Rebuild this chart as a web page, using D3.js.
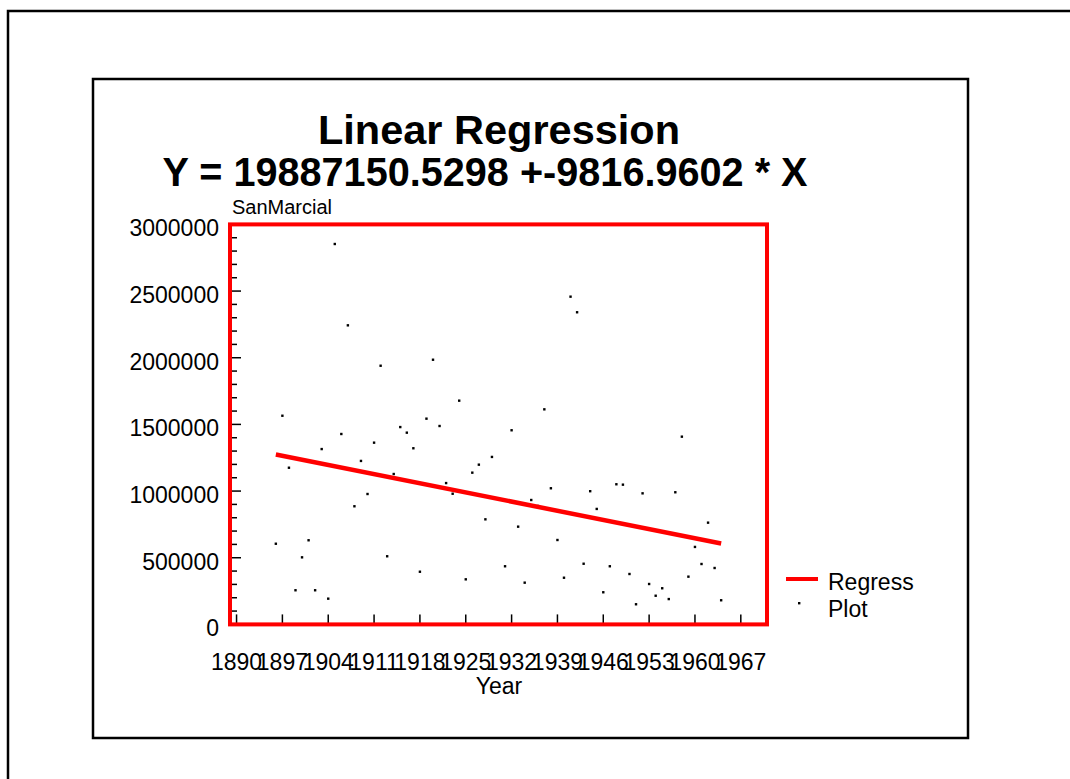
<!DOCTYPE html>
<html lang="en">
<head>
    <meta charset="UTF-8">
    <title>Linear Regression - SanMarcial</title>
    <script src="https://d3js.org/d3.v7.min.js"></script>
    <style>
        body { margin: 0; background: #fff; }
        text { font-family: "Liberation Sans", Arial, sans-serif; fill: #000; }
        .frame { fill: none; stroke: #000; stroke-width: 2.5px; }
        .title { font-weight: bold; font-size: 41px; }
        .tick-label { font-size: 23px; }
        .axis-name { font-size: 23px; }
        .legend-text { font-size: 23px; }
    </style>
</head>
<body>
    <div id="chart"></div>
    <script>
        // yearly values, 1896 .. 1964
        const years = d3.range(1896, 1965);
        const flows = [
            605000, 1565000, 1175000, 256000, 503000, 631000, 256000, 1315000, 193000, 2853000,
            1428000, 2243000, 886000, 1226000, 978000, 1363000, 1940000, 511000, 1128000, 1480000,
            1438000, 1321000, 395000, 1543000, 1985000, 1488000, 1060000, 980000, 1678000, 338000,
            1138000, 1198000, 788000, 1256000, 946000, 436000, 1456000, 733000, 313000, 933000,
            888000, 1613000, 1021000, 633000, 350000, 2458000, 2341000, 455000, 999000, 866000,
            241000, 436000, 1051000, 1048000, 378000, 151000, 983000, 303000, 215000, 271000,
            190000, 991000, 1408000, 358000, 581000, 453000, 763000, 423000, 181000
        ];
        const intercept = 19887150.5298;
        const slope = -9816.9602;

        const xTicks = d3.range(1890, 1968, 7);
        const yTicks = d3.range(0, 3000001, 500000);
        const yMinorTicks = d3.range(0, 3000001, 100000);
        const legendItems = ["Regress", "Plot"];

        const width = 1070, height = 779;
        const plot = { left: 230, right: 767, top: 224.4, bottom: 624.4 };

        const svg = d3.select("#chart").append("svg")
            .attr("width", width)
            .attr("height", height);

        // outer and inner frames
        svg.append("rect").attr("class", "frame")
            .attr("x", 8).attr("y", 11).attr("width", 1080).attr("height", 800);
        svg.append("rect").attr("class", "frame")
            .attr("x", 93).attr("y", 79).attr("width", 875).attr("height", 659);

        // titles
        svg.append("text").attr("class", "title")
            .attr("x", 499).attr("y", 144)
            .attr("text-anchor", "middle")
            .attr("textLength", 362).attr("lengthAdjust", "spacingAndGlyphs")
            .text("Linear Regression");
        svg.append("text").attr("class", "title")
            .attr("x", 485).attr("y", 186)
            .attr("text-anchor", "middle")
            .attr("textLength", 645).attr("lengthAdjust", "spacingAndGlyphs")
            .text("Y = " + intercept.toFixed(4) + " +" + slope.toFixed(4) + " * X");

        const x = d3.scaleLinear().domain([1889, 1971]).range([plot.left, plot.right]);
        const y = d3.scaleLinear().domain([0, 3000000]).range([plot.bottom, plot.top]);

        // y minor + major ticks, drawn inside the plot
        svg.append("g").selectAll("line")
            .data(yMinorTicks)
            .enter().append("line")
            .attr("x1", plot.left)
            .attr("x2", d => plot.left + (d % 500000 === 0 ? 11 : 7))
            .attr("y1", d => y(d)).attr("y2", d => y(d))
            .attr("stroke", "#000").attr("stroke-width", 1.5);

        svg.append("g").selectAll("text")
            .data(yTicks)
            .enter().append("text")
            .attr("class", "tick-label")
            .attr("x", 219)
            .attr("y", d => y(d) + 12)
            .attr("text-anchor", "end")
            .text(d => d);

        // x ticks
        svg.append("g").selectAll("line")
            .data(xTicks)
            .enter().append("line")
            .attr("x1", d => x(d)).attr("x2", d => x(d))
            .attr("y1", plot.bottom).attr("y2", plot.bottom - 10)
            .attr("stroke", "#000").attr("stroke-width", 1.5);

        svg.append("g").selectAll("text")
            .data(xTicks)
            .enter().append("text")
            .attr("class", "tick-label")
            .attr("x", d => x(d))
            .attr("y", 670)
            .attr("text-anchor", "middle")
            .text(d => d);

        svg.append("text").attr("class", "axis-name")
            .attr("x", 499).attr("y", 694)
            .attr("text-anchor", "middle")
            .text("Year");
        svg.append("text")
            .attr("x", 232).attr("y", 214)
            .style("font-size", "20px")
            .text("SanMarcial");

        // scatter points
        svg.append("g").selectAll("rect")
            .data(years)
            .enter().append("rect")
            .attr("x", (d, i) => x(d) - 1.2)
            .attr("y", (d, i) => y(flows[i]) - 1.2)
            .attr("width", 2.4).attr("height", 2.4)
            .attr("fill", "#000");

        // regression line across the data range
        const xExt = d3.extent(years);
        svg.append("line")
            .attr("x1", x(xExt[0])).attr("y1", y(intercept + slope * xExt[0]))
            .attr("x2", x(xExt[1])).attr("y2", y(intercept + slope * xExt[1]))
            .attr("stroke", "#ff0000").attr("stroke-width", 4.5);

        // plot border
        svg.append("rect")
            .attr("x", plot.left).attr("y", plot.top)
            .attr("width", plot.right - plot.left).attr("height", plot.bottom - plot.top)
            .attr("fill", "none").attr("stroke", "#ff0000").attr("stroke-width", 4);

        // legend
        const legend = svg.append("g");
        legend.append("line")
            .attr("x1", 786).attr("x2", 818).attr("y1", 579).attr("y2", 579)
            .attr("stroke", "#ff0000").attr("stroke-width", 4);
        legend.append("rect")
            .attr("x", 798).attr("y", 602).attr("width", 2.4).attr("height", 2.4)
            .attr("fill", "#000");
        legend.selectAll("text")
            .data(legendItems)
            .enter().append("text")
            .attr("class", "legend-text")
            .attr("x", 828)
            .attr("y", (d, i) => 590 + i * 27)
            .text(d => d);
    </script>
</body>
</html>
